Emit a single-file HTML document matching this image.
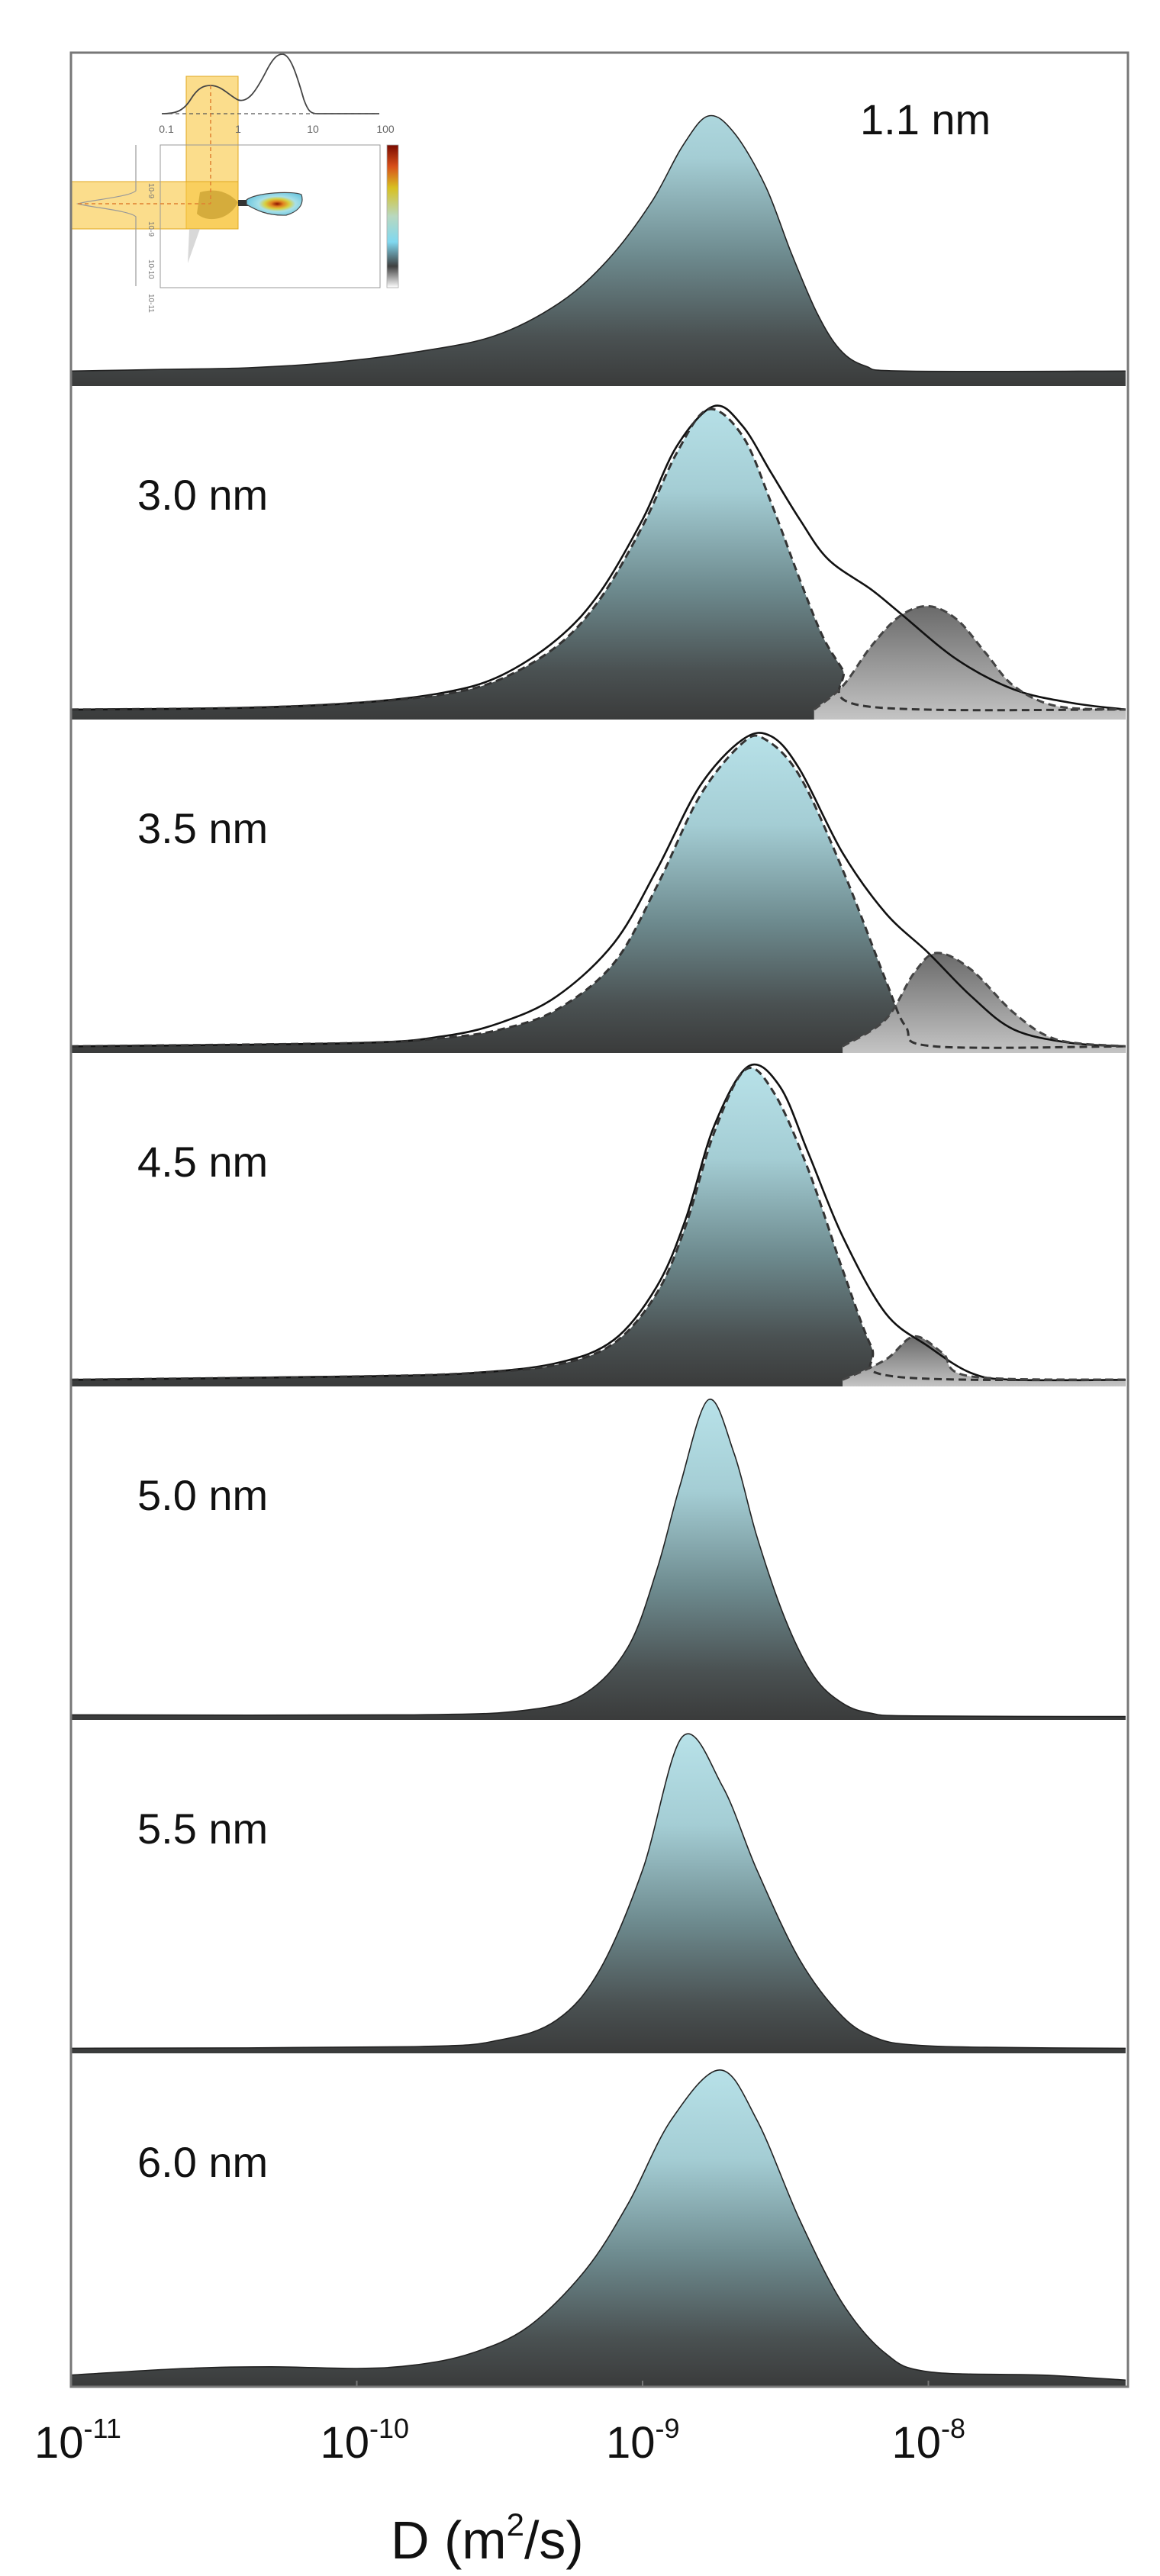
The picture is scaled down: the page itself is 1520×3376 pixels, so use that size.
<!DOCTYPE html>
<html><head><meta charset="utf-8">
<style>
html,body{margin:0;padding:0;background:#fff;}
svg{display:block;}
text{font-family:"Liberation Sans",Arial,sans-serif;}
</style></head>
<body>
<svg id="chart" width="1520" height="3376" viewBox="0 0 1520 3376" xmlns="http://www.w3.org/2000/svg">
<defs>
  <linearGradient id="gray-grad" x1="0" y1="0" x2="0" y2="1">
    <stop offset="0" stop-color="#6a6a6a"/><stop offset="1" stop-color="#c4c4c4"/>
  </linearGradient>
  <linearGradient id="cbar-grad" x1="0" y1="0" x2="0" y2="1">
    <stop offset="0" stop-color="#7a0a00"/><stop offset="0.15" stop-color="#d8501a"/>
    <stop offset="0.3" stop-color="#d8c020"/><stop offset="0.5" stop-color="#b8d8c0"/>
    <stop offset="0.68" stop-color="#80d8f0"/><stop offset="0.85" stop-color="#404040"/>
    <stop offset="1" stop-color="#ffffff"/>
  </linearGradient>
  <radialGradient id="blob-grad" cx="0.55" cy="0.5" r="0.55">
    <stop offset="0" stop-color="#8a1000"/><stop offset="0.2" stop-color="#e08020"/>
    <stop offset="0.4" stop-color="#d8d040"/><stop offset="0.6" stop-color="#a8e0e8"/>
    <stop offset="1" stop-color="#70c8e0"/>
  </radialGradient>
</defs>
<g id="panels"></g>
<g id="inset">
  <rect x="244" y="100" width="68" height="200" fill="#f8c640" fill-opacity="0.6" stroke="#e0a820" stroke-width="1"/>
  <rect x="94" y="238" width="218" height="62" fill="#f8c640" fill-opacity="0.6" stroke="#e0a820" stroke-width="1"/>
  <path d="M212,149 C230,149 240,146 250,130 C260,114 268,112 276,112 C290,112 300,125 312,131 C325,135 335,120 348,95 C358,75 364,71 370,71 C380,71 388,95 398,130 C404,147 408,149 416,149 L497,149" fill="none" stroke="#444" stroke-width="1.8"/>
  <path d="M212,149 L497,149" stroke="#555" stroke-width="1.2" stroke-dasharray="5,4"/>
  <text x="218" y="174" font-size="14" fill="#666" text-anchor="middle">0.1</text>
  <text x="312" y="174" font-size="14" fill="#666" text-anchor="middle">1</text>
  <text x="410" y="174" font-size="14" fill="#666" text-anchor="middle">10</text>
  <text x="505" y="174" font-size="14" fill="#666" text-anchor="middle">100</text>
  <rect x="210" y="190" width="288" height="187" fill="none" stroke="#999" stroke-width="1"/>
  <rect x="507" y="190" width="15" height="187" fill="url(#cbar-grad)" stroke="#aaa" stroke-width="0.8"/>
  <path d="M248,300 L262,300 L246,345 Z" fill="#c8c8c8" opacity="0.7"/>
  <path d="M262,252 C290,244 305,258 312,265 C300,290 270,292 258,280 Z" fill="#b89020" opacity="0.55"/>
  <path d="M312,262 L325,262 L325,270 L312,270 Z" fill="#333"/>
  <path d="M323,262 C335,252 385,250 395,255 C398,265 395,276 375,282 C350,283 335,275 323,268 Z" fill="url(#blob-grad)" stroke="#444" stroke-width="1.2"/>
  <path d="M178,190 L178,250 C170,258 120,262 102,267 C120,272 170,276 178,284 L178,375" fill="none" stroke="#999" stroke-width="1.2"/>
  <path d="M102,267 L276,267" stroke="#e08030" stroke-width="1.5" stroke-dasharray="5,4"/>
  <path d="M276,112 L276,267" stroke="#e08030" stroke-width="1.5" stroke-dasharray="5,4"/>
  <g font-size="10" fill="#777">
    <text transform="translate(195,240) rotate(90)">10-9</text>
    <text transform="translate(195,290) rotate(90)">10-9</text>
    <text transform="translate(195,340) rotate(90)">10-10</text>
    <text transform="translate(195,385) rotate(90)">10-11</text>
  </g>
</g>
<rect x="93" y="69" width="1385" height="3059" fill="none" stroke="#777" stroke-width="3"/>
<g id="xaxis"></g>
<text x="512" y="3353" font-size="70" fill="#111">D (m<tspan font-size="42" dy="-30">2</tspan><tspan dy="30">/s)</tspan></text>
</svg>
<script>
// ---- data (logD, relative intensity 0..1) ----
const panelLabels = ["1.1 nm","3.0 nm","3.5 nm","4.5 nm","5.0 nm","5.5 nm","6.0 nm"];
const tickExponents = [-11,-10,-9,-8];
const tickLabels = ["10","10","10","10"];

const p1x = [-11,-10.67,-10.38,-10.1,-9.81,-9.52,-9.29,-9.12,-8.97,-8.86,-8.77,-8.68,-8.57,-8.48,-8.39,-8.31,-8.22,-8.08,-7.31];
const p1y = [0.045,0.05,0.055,0.07,0.1,0.15,0.25,0.38,0.55,0.72,0.81,0.76,0.6,0.4,0.22,0.11,0.06,0.045,0.045];

const p2sx = [-11,-10.4,-10,-9.7,-9.5,-9.3,-9.15,-9,-8.88,-8.75,-8.65,-8.55,-8.45,-8.35,-8.2,-8.1,-7.9,-7.7,-7.5,-7.31];
const p2sy = [0.03,0.035,0.05,0.08,0.13,0.24,0.38,0.6,0.82,0.94,0.88,0.74,0.6,0.48,0.39,0.32,0.18,0.09,0.05,0.03];
const p2mx = [-11,-10.4,-10,-9.7,-9.5,-9.3,-9.15,-9,-8.88,-8.77,-8.65,-8.55,-8.45,-8.37,-8.3,-8.22,-7.31];
const p2my = [0.03,0.035,0.05,0.075,0.12,0.22,0.36,0.58,0.8,0.93,0.85,0.65,0.42,0.25,0.15,0.04,0.03];
const p2gx = [-8.4,-8.3,-8.2,-8.1,-8.0,-7.9,-7.8,-7.7,-7.55,-7.31];
const p2gy = [0.03,0.1,0.22,0.31,0.34,0.3,0.2,0.1,0.04,0.03];

const p3sx = [-11,-10,-9.7,-9.5,-9.3,-9.1,-8.95,-8.8,-8.65,-8.55,-8.45,-8.3,-8.15,-8,-7.85,-7.7,-7.5,-7.31];
const p3sy = [0.02,0.03,0.05,0.09,0.17,0.33,0.55,0.8,0.94,0.95,0.85,0.6,0.42,0.3,0.17,0.07,0.03,0.02];
const p3mx = [-11,-10,-9.7,-9.5,-9.3,-9.1,-8.95,-8.8,-8.65,-8.57,-8.45,-8.3,-8.15,-8.08,-7.98,-7.31];
const p3my = [0.02,0.03,0.045,0.07,0.13,0.27,0.5,0.77,0.93,0.94,0.83,0.55,0.22,0.08,0.02,0.02];
const p3gx = [-8.3,-8.15,-8.05,-7.97,-7.85,-7.7,-7.55,-7.31];
const p3gy = [0.02,0.1,0.24,0.3,0.25,0.12,0.04,0.02];

const p4sx = [-11,-10,-9.6,-9.3,-9.1,-8.95,-8.85,-8.75,-8.63,-8.52,-8.42,-8.3,-8.15,-8,-7.85,-7.7,-7.31];
const p4sy = [0.02,0.03,0.04,0.07,0.14,0.3,0.5,0.78,0.96,0.9,0.7,0.45,0.22,0.12,0.04,0.02,0.02];
const p4mx = [-11,-10,-9.6,-9.3,-9.1,-8.95,-8.85,-8.75,-8.64,-8.54,-8.42,-8.3,-8.2,-8.12,-7.31];
const p4my = [0.02,0.03,0.04,0.065,0.13,0.28,0.48,0.76,0.95,0.88,0.65,0.35,0.12,0.03,0.02];
const p4gx = [-8.3,-8.15,-8.05,-7.95,-7.85,-7.31];
const p4gy = [0.02,0.08,0.15,0.1,0.03,0.02];

const p5x = [-11,-9.8,-9.4,-9.2,-9.05,-8.95,-8.87,-8.77,-8.68,-8.6,-8.5,-8.4,-8.3,-8.2,-8.05,-7.31];
const p5y = [0.015,0.015,0.03,0.08,0.22,0.45,0.7,0.96,0.8,0.55,0.3,0.13,0.05,0.02,0.012,0.01];

const p6x = [-11,-9.8,-9.5,-9.3,-9.15,-9,-8.86,-8.72,-8.6,-8.45,-8.3,-8.18,-8.05,-7.8,-7.31];
const p6y = [0.015,0.02,0.04,0.1,0.25,0.55,0.95,0.8,0.55,0.28,0.11,0.045,0.025,0.018,0.015];

const p7x = [-11,-10.6,-10.3,-10,-9.8,-9.6,-9.4,-9.2,-9.05,-8.9,-8.73,-8.6,-8.45,-8.3,-8.15,-8,-7.6,-7.31];
const p7y = [0.035,0.055,0.06,0.055,0.065,0.1,0.18,0.35,0.55,0.8,0.95,0.8,0.5,0.25,0.1,0.045,0.035,0.02];

// ---- layout ----
const svg = document.getElementById('chart');
const NS = 'http://www.w3.org/2000/svg';
const X0 = 93, X1 = 1478, TOP = 69, BOT = 3128;
const PH = (BOT - TOP) / 7;
const DEC = 374.5;
function xScale(logD){ return X0 + (logD + 11) * DEC; }
function yScale(panel, v){ const b = TOP + PH*(panel+1); return b - v * PH; }

function smoothPath(xs, ys, panel){
  const pts = xs.map((x,i)=>[xScale(x), yScale(panel, ys[i])]);
  const base = TOP + PH*(panel+1);
  let d = 'M' + pts[0][0].toFixed(1) + ',' + pts[0][1].toFixed(1);
  for(let i=0;i<pts.length-1;i++){
    const p0 = pts[Math.max(0,i-1)], p1 = pts[i], p2 = pts[i+1], p3 = pts[Math.min(pts.length-1,i+2)];
    const c1x = p1[0] + (p2[0]-p0[0])/6;
    const c1y = Math.min(base-2, p1[1] + (p2[1]-p0[1])/6);
    const c2x = p2[0] - (p3[0]-p1[0])/6;
    const c2y = Math.min(base-2, p2[1] - (p3[1]-p1[1])/6);
    d += ' C' + c1x.toFixed(1)+','+c1y.toFixed(1)+' '+c2x.toFixed(1)+','+c2y.toFixed(1)+' '+p2[0].toFixed(1)+','+p2[1].toFixed(1);
  }
  return {d:d, first:pts[0], last:pts[pts.length-1]};
}

const defs = svg.querySelector('defs');
const panelsG = document.getElementById('panels');

function addGrad(panel){
  const g = document.createElementNS(NS,'linearGradient');
  g.setAttribute('id','pg'+panel);
  g.setAttribute('gradientUnits','userSpaceOnUse');
  g.setAttribute('x1','0'); g.setAttribute('x2','0');
  g.setAttribute('y1', TOP + PH*panel + 10);
  g.setAttribute('y2', TOP + PH*(panel+1));
  [['0','#b9e3ea'],['0.3','#a4cdd4'],['0.6','#6d8a8e'],['0.85','#4a5152'],['1','#3a3b3b']].forEach(s=>{
    const st = document.createElementNS(NS,'stop');
    st.setAttribute('offset', s[0]); st.setAttribute('stop-color', s[1]);
    g.appendChild(st);
  });
  defs.appendChild(g);
}

function addFill(panel, xs, ys, fill, name){
  const sp = smoothPath(xs, ys, panel);
  const base = TOP + PH*(panel+1);
  const p = document.createElementNS(NS,'path');
  p.setAttribute('d', sp.d + ' L' + sp.last[0].toFixed(1) + ',' + base + ' L' + sp.first[0].toFixed(1) + ',' + base + ' Z');
  p.setAttribute('fill', fill);
  
  
  panelsG.appendChild(p);
}
function addLine(panel, xs, ys, stroke, width, dash, name){
  const sp = smoothPath(xs, ys, panel);
  const p = document.createElementNS(NS,'path');
  p.setAttribute('d', sp.d);
  p.setAttribute('fill','none');
  p.setAttribute('stroke', stroke);
  p.setAttribute('stroke-width', width);
  if(dash) p.setAttribute('stroke-dasharray', dash);
  
  
  panelsG.appendChild(p);
}

for(let i=0;i<7;i++) addGrad(i);

// panel 1
addFill(0, p1x, p1y, 'url(#pg0)', 'peak-fill-1-1nm');
addLine(0, p1x, p1y, '#222', 1.6, null, 'peak-outline-1-1nm');
// panel 2
addFill(1, p2mx, p2my, 'url(#pg1)', 'main-component-fill-3-0nm');
addFill(1, p2gx, p2gy, 'url(#gray-grad)', 'minor-component-fill-3-0nm');
addLine(1, p2sx, p2sy, '#111', 2.6, null, 'total-fit-line-3-0nm');
addLine(1, p2mx, p2my, '#333', 3, '10,6', 'main-component-dashed-3-0nm');
addLine(1, p2gx, p2gy, '#444', 3, '10,6', 'minor-component-dashed-3-0nm');
// panel 3
addFill(2, p3mx, p3my, 'url(#pg2)', 'main-component-fill-3-5nm');
addFill(2, p3gx, p3gy, 'url(#gray-grad)', 'minor-component-fill-3-5nm');
addLine(2, p3sx, p3sy, '#111', 2.6, null, 'total-fit-line-3-5nm');
addLine(2, p3mx, p3my, '#333', 3, '10,6', 'main-component-dashed-3-5nm');
addLine(2, p3gx, p3gy, '#444', 3, '10,6', 'minor-component-dashed-3-5nm');
// panel 4
addFill(3, p4mx, p4my, 'url(#pg3)', 'main-component-fill-4-5nm');
addFill(3, p4gx, p4gy, 'url(#gray-grad)', 'minor-component-fill-4-5nm');
addLine(3, p4sx, p4sy, '#111', 2.6, null, 'total-fit-line-4-5nm');
addLine(3, p4mx, p4my, '#333', 3, '10,6', 'main-component-dashed-4-5nm');
addLine(3, p4gx, p4gy, '#444', 3, '10,6', 'minor-component-dashed-4-5nm');
// panels 5-7
addFill(4, p5x, p5y, 'url(#pg4)', 'peak-fill-5-0nm');
addLine(4, p5x, p5y, '#222', 1.6, null, 'peak-outline-5-0nm');
addFill(5, p6x, p6y, 'url(#pg5)', 'peak-fill-5-5nm');
addLine(5, p6x, p6y, '#222', 1.6, null, 'peak-outline-5-5nm');
addFill(6, p7x, p7y, 'url(#pg6)', 'peak-fill-6-0nm');
addLine(6, p7x, p7y, '#222', 1.6, null, 'peak-outline-6-0nm');

// panel labels
for(let i=0;i<7;i++){
  const t = document.createElementNS(NS,'text');
  const x = i===0 ? 1127 : 180;
  const y = i===0 ? TOP+107 : TOP + PH*i + 162;
  t.setAttribute('x', x); t.setAttribute('y', y);
  t.setAttribute('font-size', '56');
  t.setAttribute('fill', '#111');
  t.textContent = panelLabels[i];
  
  
  svg.appendChild(t);
}

// x axis ticks & labels
const xg = document.getElementById('xaxis');
tickExponents.forEach((e,i)=>{
  const x = xScale(e);
  const tk = document.createElementNS(NS,'line');
  tk.setAttribute('x1', x); tk.setAttribute('x2', x);
  tk.setAttribute('y1', BOT); tk.setAttribute('y2', BOT - 8);
  tk.setAttribute('stroke', '#777'); tk.setAttribute('stroke-width', '2');
  
  
  xg.appendChild(tk);
  const t = document.createElementNS(NS,'text');
  t.setAttribute('x', x - 48); t.setAttribute('y', 3221);
  t.setAttribute('font-size', '58');
  t.setAttribute('fill', '#111');
  
  
  t.appendChild(document.createTextNode(tickLabels[i]));
  const s = document.createElementNS(NS,'tspan');
  s.setAttribute('font-size','36'); s.setAttribute('dy','-26');
  s.textContent = String(e);
  t.appendChild(s);
  xg.appendChild(t);
});
</script>
</body></html>
